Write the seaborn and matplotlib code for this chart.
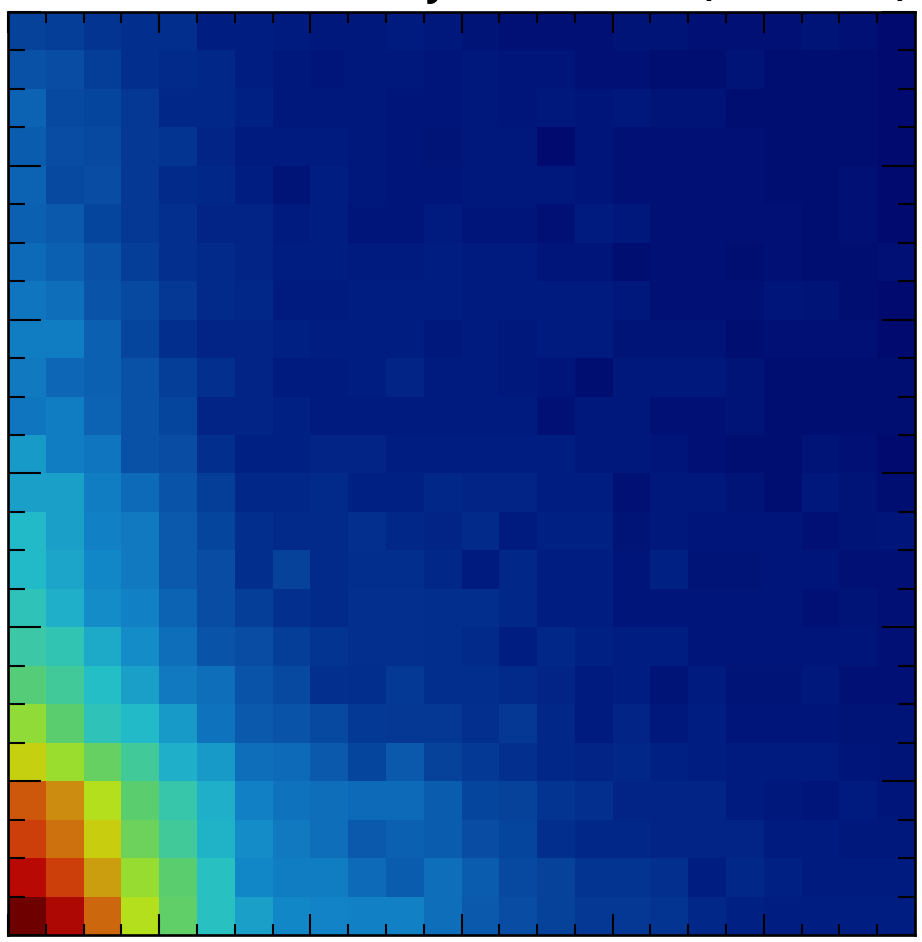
import numpy as np
import seaborn as sns
import matplotlib.pyplot as plt
from matplotlib.colors import LinearSegmentedColormap
from matplotlib.ticker import MultipleLocator

# cell values, 0-100 on the colour scale below, top row first
row_00 = [21, 20, 17, 15, 15, 10, 10, 9, 8, 8, 9, 8, 6, 5, 5, 5, 6, 6, 5, 5, 5, 6, 5, 3]
row_01 = [25, 24, 20, 15, 14, 13, 10, 8, 7, 8, 8, 7, 8, 7, 7, 5, 5, 4, 4, 6, 4, 4, 4, 3]
row_02 = [30, 23, 22, 18, 13, 13, 11, 8, 8, 8, 7, 7, 8, 7, 8, 7, 8, 6, 6, 4, 4, 4, 4, 3]
row_03 = [28, 24, 23, 18, 17, 12, 9, 9, 9, 8, 7, 6, 8, 8, 3, 7, 5, 5, 5, 5, 4, 4, 4, 3]
row_04 = [30, 23, 24, 18, 14, 13, 10, 6, 10, 8, 7, 7, 8, 8, 8, 7, 5, 5, 5, 5, 4, 4, 5, 3]
row_05 = [29, 27, 22, 18, 16, 12, 12, 9, 10, 7, 7, 9, 7, 7, 5, 9, 8, 5, 5, 5, 5, 4, 5, 3]
row_06 = [32, 29, 25, 20, 16, 14, 12, 10, 10, 9, 9, 10, 9, 9, 7, 7, 4, 5, 5, 4, 5, 4, 4, 5]
row_07 = [35, 33, 26, 23, 18, 14, 13, 9, 9, 10, 10, 10, 9, 9, 9, 9, 8, 5, 5, 5, 7, 6, 4, 3]
row_08 = [37, 37, 29, 22, 15, 12, 12, 11, 10, 10, 10, 8, 9, 8, 9, 9, 6, 6, 6, 4, 5, 5, 5, 3]
row_09 = [36, 31, 29, 25, 20, 16, 12, 9, 9, 10, 12, 9, 9, 8, 7, 4, 8, 8, 8, 6, 4, 4, 4, 4]
row_10 = [35, 37, 30, 25, 22, 12, 12, 11, 9, 9, 9, 9, 9, 9, 5, 8, 8, 5, 5, 6, 4, 4, 4, 4]
row_11 = [43, 37, 35, 25, 24, 15, 11, 11, 12, 12, 10, 10, 10, 10, 10, 8, 8, 7, 5, 4, 4, 6, 5, 3]
row_12 = [44, 44, 37, 32, 26, 20, 13, 13, 14, 11, 11, 13, 12, 12, 10, 10, 5, 8, 8, 6, 4, 8, 6, 4]
row_13 = [49, 44, 38, 36, 27, 22, 15, 14, 14, 16, 13, 12, 14, 9, 11, 11, 6, 8, 7, 7, 7, 5, 6, 7]
row_14 = [49, 45, 40, 36, 27, 24, 15, 21, 14, 15, 15, 13, 9, 13, 10, 10, 7, 11, 6, 6, 7, 7, 5, 5]
row_15 = [52, 47, 41, 38, 30, 24, 20, 16, 14, 16, 16, 15, 15, 13, 10, 10, 7, 7, 7, 7, 7, 5, 6, 5]
row_16 = [55, 53, 46, 41, 33, 26, 24, 20, 17, 16, 16, 15, 14, 10, 13, 11, 10, 10, 7, 7, 7, 7, 7, 5]
row_17 = [59, 56, 50, 44, 36, 33, 26, 23, 16, 15, 19, 15, 15, 14, 12, 9, 10, 6, 9, 6, 6, 8, 5, 5]
row_18 = [69, 60, 52, 49, 43, 34, 27, 26, 23, 19, 18, 18, 16, 18, 13, 9, 12, 8, 10, 7, 7, 7, 6, 6]
row_19 = [79, 71, 62, 56, 47, 43, 33, 32, 27, 22, 27, 21, 19, 16, 13, 12, 13, 11, 10, 9, 9, 9, 7, 6]
row_20 = [88, 84, 75, 60, 54, 47, 38, 34, 33, 32, 32, 28, 22, 21, 17, 16, 12, 12, 12, 9, 8, 7, 9, 7]
row_21 = [90, 86, 80, 63, 56, 48, 41, 36, 33, 27, 29, 28, 24, 22, 15, 13, 13, 12, 12, 12, 9, 9, 8, 8]
row_22 = [95, 90, 83, 70, 60, 51, 40, 37, 37, 32, 28, 33, 28, 23, 21, 17, 17, 16, 10, 13, 11, 9, 9, 9]
row_23 = [100, 96, 87, 75, 61, 51, 44, 40, 39, 38, 38, 33, 27, 24, 21, 18, 18, 17, 13, 11, 10, 10, 10, 10]

rows = [row_00, row_01, row_02, row_03, row_04, row_05, row_06, row_07,
        row_08, row_09, row_10, row_11, row_12, row_13, row_14, row_15,
        row_16, row_17, row_18, row_19, row_20, row_21, row_22, row_23]

# muted jet-like colours as they appear in the picture
stops = [(0, (0, 3, 104)), (10, (0, 30, 130)), (20, (5, 62, 152)), (30, (12, 100, 180)),
         (40, (18, 135, 200)), (45, (28, 165, 200)), (50, (35, 190, 200)), (55, (60, 200, 165)),
         (60, (90, 205, 110)), (70, (150, 220, 50)), (75, (178, 224, 30)), (80, (200, 205, 15)),
         (85, (205, 130, 15)), (90, (205, 65, 10)), (95, (190, 10, 5)), (100, (110, 0, 0))]
cmap = LinearSegmentedColormap.from_list(
    'muted_jet', [(v / 100, tuple(c / 255 for c in rgb)) for v, rgb in stops])

W, H = 922, 942
fig = plt.figure(figsize=(W / 100, H / 100), dpi=100)
ax = fig.add_axes([8 / W, 1 - 935 / H, 907 / W, 923 / H])

sns.heatmap(np.array(rows), cmap=cmap, vmin=0, vmax=100, cbar=False,
            xticklabels=False, yticklabels=False, ax=ax)

for spine in ax.spines.values():
    spine.set_visible(True)
    spine.set_linewidth(1.9)
    spine.set_color('black')

for axis in (ax.xaxis, ax.yaxis):
    axis.set_major_locator(MultipleLocator(4))
    axis.set_minor_locator(MultipleLocator(1))

ax.tick_params(axis='x', which='major', direction='in', length=15, width=1.5,
               top=True, bottom=True, labelbottom=False)
ax.tick_params(axis='x', which='minor', direction='in', length=8, width=1.5, top=True, bottom=True)
ax.tick_params(axis='y', which='major', direction='in', length=24, width=1.5,
               left=True, right=True, labelleft=False)
ax.tick_params(axis='y', which='minor', direction='in', length=12, width=1.5, left=True, right=True)

# the title is cut off by the top edge, only these descenders can be made out
for x_px, mark in [(436, 'y'), (706, '('), (902, ')')]:
    fig.text(x_px / W, 1 + 5 / H, mark, fontsize=27, fontweight='bold', color='black',
             family='Open Sans', ha='center', va='baseline')

fig.savefig('out.png', dpi=100)
